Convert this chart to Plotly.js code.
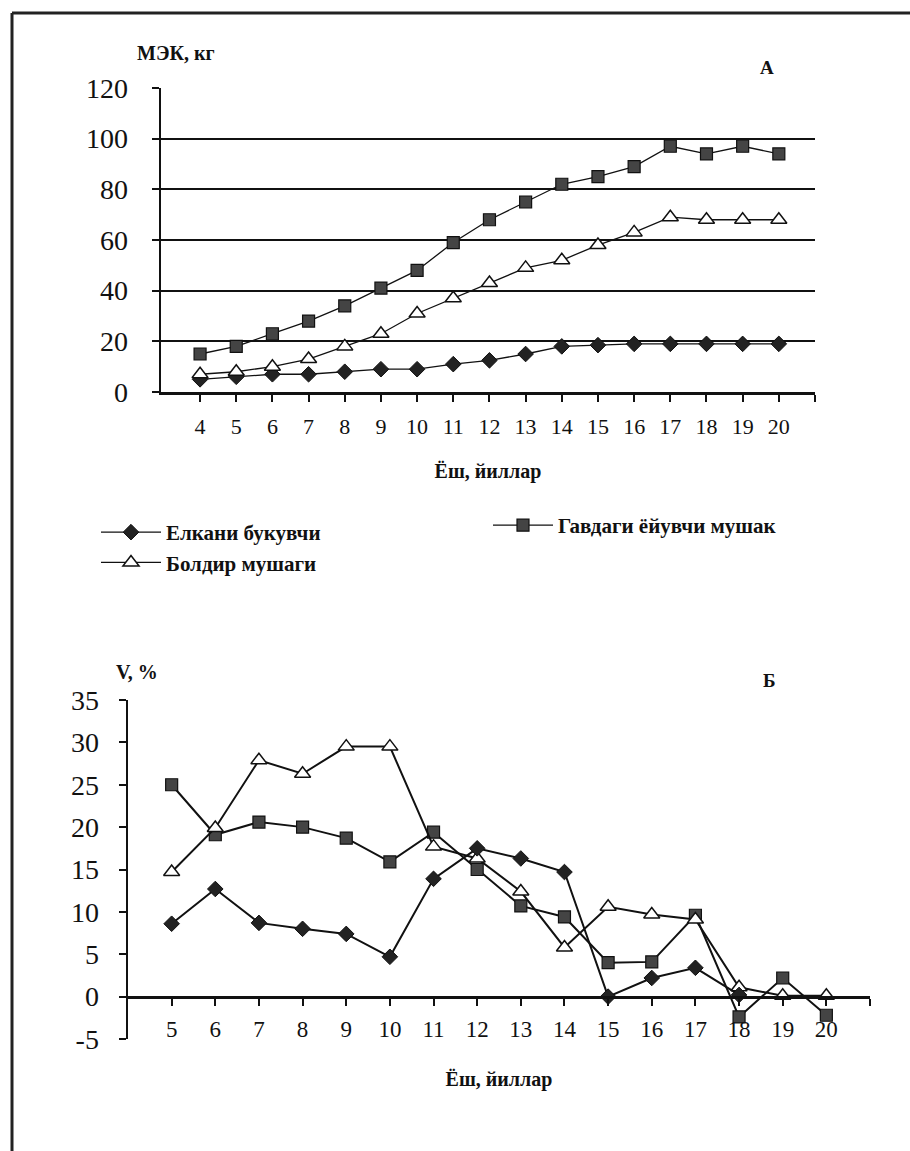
<!DOCTYPE html>
<html>
<head>
<meta charset="utf-8">
<script src="https://cdn.plot.ly/plotly-3.0.1.min.js"></script>
<style>
  html, body { margin: 0; padding: 0; background: #fff; }
  #chart { width: 910px; height: 1151px; }
</style>
</head>
<body>
<div id="chart"></div>
<script>
// A: МЭК, кг by age
const ageA = [4, 5, 6, 7, 8, 9, 10, 11, 12, 13, 14, 15, 16, 17, 18, 19, 20];
const elkaniA = [5, 6, 7, 7, 8, 9, 9, 11, 12.5, 15, 18, 18.5, 19, 19, 19, 19, 19];
const boldirA = [7, 8, 10, 13, 18, 23, 31, 37, 43, 49, 52, 58, 63, 69, 68, 68, 68];
const gavdaA = [15, 18, 23, 28, 34, 41, 48, 59, 68, 75, 82, 85, 89, 97, 94, 97, 94];

// Б: V, % by age
const ageB = [5, 6, 7, 8, 9, 10, 11, 12, 13, 14, 15, 16, 17, 18, 19, 20];
const elkaniB = [8.6, 12.7, 8.7, 8.0, 7.4, 4.7, 13.9, 17.5, 16.3, 14.7, 0, 2.2, 3.4, 0.2, null, null];
const gavdaB = [25, 19.1, 20.6, 20.0, 18.7, 15.9, 19.4, 15.0, 10.7, 9.4, 4.0, 4.1, 9.6, -2.4, 2.2, -2.2];
const boldirB = [14.7, 19.9, 27.9, 26.3, 29.5, 29.5, 17.7, 16.3, 12.4, 5.8, 10.6, 9.7, 9.1, 1.1, 0.1, 0.1];

const names = ["Елкани букувчи", "Болдир мушаги", "Гавдаги ёйувчи мушак"];

const W = 910, H = 1151;
const px = v => v / W;
const py = v => 1 - v / H;

const serif = "Liberation Serif";

const mkDiamond = { symbol: "diamond", size: 12, color: "#222", line: { color: "#111", width: 1 } };
const mkSquare = { symbol: "square", size: 12, color: "#444", line: { color: "#111", width: 1.2 } };
const mkTri = { symbol: "triangle-up", size: 14, color: "#fff", line: { color: "#111", width: 1.5 } };

var traceElkaniA = {
    x: ageA, y: elkaniA, mode: "lines+markers", name: names[0],
    line: { color: "#111", width: 1.3 }, marker: mkDiamond, legend: "legend"
};
var traceBoldirA = {
    x: ageA, y: boldirA, mode: "lines+markers", name: names[1],
    line: { color: "#111", width: 1.3 }, marker: mkTri, legend: "legend"
};
var traceGavdaA = {
    x: ageA, y: gavdaA, mode: "lines+markers", name: names[2],
    line: { color: "#111", width: 1.3 }, marker: mkSquare, legend: "legend2"
};

var traceElkaniB = {
    x: ageB, y: elkaniB, xaxis: "x2", yaxis: "y2", mode: "lines+markers", name: names[0],
    line: { color: "#111", width: 2 }, marker: mkDiamond, showlegend: false
};
var traceGavdaB = {
    x: ageB, y: gavdaB, xaxis: "x2", yaxis: "y2", mode: "lines+markers", name: names[2],
    line: { color: "#111", width: 2 }, marker: mkSquare, showlegend: false
};
var traceBoldirB = {
    x: ageB, y: boldirB, xaxis: "x2", yaxis: "y2", mode: "lines+markers", name: names[1],
    line: { color: "#111", width: 2 }, marker: mkTri, showlegend: false
};

// grid-only helper trace for the top panel (horizontal lines 20..100)
var gridA = { x: [ageA[0]], y: [null], xaxis: "x", yaxis: "y3", showlegend: false, hoverinfo: "skip" };

var data = [gridA, traceElkaniA, traceGavdaA, traceBoldirA, traceGavdaB, traceBoldirB, traceElkaniB];

const tickA = ageA.concat([21]);
const tickB = ageB.concat([21]);
const yTickB = [-5, 0, 5, 10, 15, 20, 25, 30, 35];

var layout = {
    width: W,
    height: H,
    margin: { l: 0, r: 0, t: 0, b: 0 },
    paper_bgcolor: "#fff",
    plot_bgcolor: "rgba(0,0,0,0)",
    font: { family: serif, color: "#111" },
    xaxis: {
        domain: [px(161), px(815)],
        range: [2.92, 21],
        tickvals: tickA,
        ticktext: tickA.map(v => v <= 20 ? String(v) : ""),
        showgrid: false, zeroline: false,
        showline: true, linecolor: "#111", linewidth: 2.5,
        ticks: "outside", ticklen: 7, tickwidth: 2, tickcolor: "#111",
        ticklabelstandoff: 6,
        tickfont: { size: 22, family: serif },
        title: { text: "Ёш, йиллар", font: { size: 20, weight: "bold", family: serif }, standoff: 26 },
        anchor: "y"
    },
    yaxis: {
        domain: [py(392), py(88)],
        range: [0, 120],
        tickvals: [0, 20, 40, 60, 80, 100, 120],
        showgrid: false, zeroline: false,
        showline: true, linecolor: "#111", linewidth: 2.5,
        ticks: "outside", ticklen: 7, tickwidth: 2, tickcolor: "#111",
        ticklabelstandoff: 18,
        tickfont: { size: 28, family: serif },
        anchor: "x"
    },
    yaxis3: {
        overlaying: "y",
        range: [0, 120],
        tickvals: [20, 40, 60, 80, 100],
        showgrid: true, gridcolor: "#111", gridwidth: 2.2,
        showticklabels: false, ticks: "", zeroline: false, showline: false
    },
    xaxis2: {
        domain: [px(128), px(870)],
        range: [4, 21],
        tickvals: tickB,
        ticktext: tickB.map(v => v <= 20 ? String(v) : ""),
        showgrid: false, zeroline: false,
        showline: true, linecolor: "#111", linewidth: 2.5,
        ticks: "outside", ticklen: 7, tickwidth: 2, tickcolor: "#111",
        ticklabelstandoff: 4,
        tickfont: { size: 23, family: serif },
        title: { text: "Ёш, йиллар", font: { size: 20, weight: "bold", family: serif }, standoff: 30 },
        anchor: "free",
        position: py(997)
    },
    yaxis2: {
        domain: [py(1039), py(700)],
        range: [-5, 35],
        tickvals: yTickB,
        ticktext: yTickB.map(v => String(v)),
        showgrid: false, zeroline: false,
        showline: true, linecolor: "#111", linewidth: 2.5,
        ticks: "outside", ticklen: 7, tickwidth: 2, tickcolor: "#111",
        ticklabelstandoff: 14,
        tickfont: { size: 28, family: serif },
        anchor: "x2"
    },
    legend: {
        x: px(96), y: py(512), xanchor: "left", yanchor: "top",
        orientation: "v", itemwidth: 60, tracegroupgap: 0,
        bgcolor: "rgba(0,0,0,0)",
        font: { size: 21, weight: "bold", family: serif }
    },
    legend2: {
        x: px(488), y: py(505), xanchor: "left", yanchor: "top",
        itemwidth: 60,
        bgcolor: "rgba(0,0,0,0)",
        font: { size: 21, weight: "bold", family: serif }
    },
    annotations: [
        { text: "МЭК, кг", xref: "paper", yref: "paper", x: px(176), y: py(53), showarrow: false,
          xanchor: "center", yanchor: "middle", font: { size: 20, weight: "bold", family: serif } },
        { text: "А", xref: "paper", yref: "paper", x: px(767), y: py(68), showarrow: false,
          xanchor: "center", yanchor: "middle", font: { size: 19, weight: "bold", family: serif } },
        { text: "V, %", xref: "paper", yref: "paper", x: px(137), y: py(672), showarrow: false,
          xanchor: "center", yanchor: "middle", font: { size: 20, weight: "bold", family: serif } },
        { text: "Б", xref: "paper", yref: "paper", x: px(769), y: py(680), showarrow: false,
          xanchor: "center", yanchor: "middle", font: { size: 19, weight: "bold", family: serif } }
    ],
    shapes: [
        { type: "line", xref: "paper", yref: "paper", x0: px(12), x1: 1, y0: py(13), y1: py(13),
          line: { color: "#222", width: 3 } },
        { type: "line", xref: "paper", yref: "paper", x0: px(12), x1: px(12), y0: py(13), y1: 0,
          line: { color: "#222", width: 3 } }
    ]
};

Plotly.newPlot("chart", data, layout, { displayModeBar: false, staticPlot: true });
</script>
</body>
</html>
